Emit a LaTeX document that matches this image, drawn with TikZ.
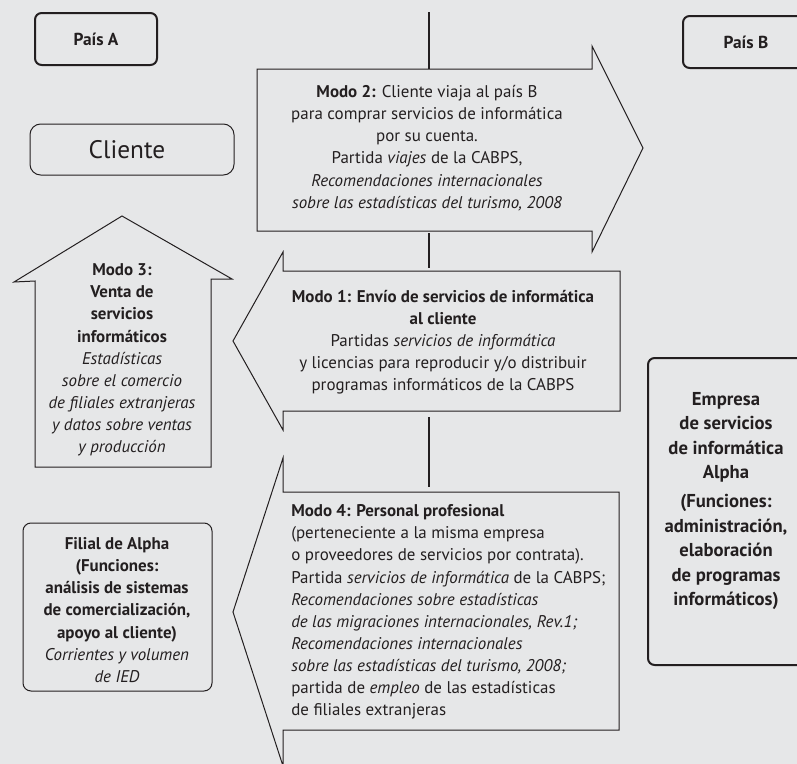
\documentclass[tikz,border=0pt]{standalone}
\usepackage{fontspec}
\setmainfont{PT Sans}
\definecolor{bg}{RGB}{230,231,232}
\definecolor{ink}{RGB}{35,31,32}
\begin{document}
\begin{tikzpicture}[x=0.75pt,y=-0.75pt,
  thickbox/.style={draw=ink,line width=1.5pt,rounded corners=5pt},
  thinbox/.style={draw=ink,line width=0.75pt,rounded corners=6pt},
  arrowshape/.style={draw=ink,line width=0.75pt,line join=miter},
  axis/.style={draw=ink,line width=1.6pt},
  txt/.style={text=ink,inner sep=0pt,align=center,font=\fontsize{12.7}{16.6}\selectfont}]
\fill[bg] (0,0) rectangle (797,764);
\useasboundingbox (0,0) rectangle (797,764);

% country boxes
\draw[thickbox] (35,13) rectangle (157,65);
\node[txt,font=\fontsize{13}{15}\selectfont\bfseries] (paisA) at (96,39) {País A};
\draw[thickbox] (683,16) rectangle (810,68);
\node[txt,font=\fontsize{13}{15}\selectfont\bfseries] (paisB) at (746,42) {País B};

% cliente
\draw[thinbox,rounded corners=8pt] (30,124) rectangle (234,175);
\node[txt,font=\fontsize{19}{21}\selectfont] (cliente) at (127,150) {Cliente};

% vertical axis
\coordinate (v0) at (429,12);
\coordinate (v1) at (429,69);
\coordinate (v2) at (429,233);
\coordinate (v3) at (429,268);
\coordinate (v4) at (429,417);
\coordinate (v5) at (429,487);
\draw[axis] (v0) -- (v1);
\draw[axis] (v2) -- (v3);
\draw[axis] (v4) -- (v5);

% Modo 2 (right arrow)
\draw[arrowshape] (257,69) -- (592,69) -- (592,46) -- (643,148) -- (592,252) -- (592,231) -- (257,231) -- cycle;
\node[txt] (m2) at (427,148) {\textbf{Modo 2:} Cliente viaja al país B\\para comprar servicios de informática\\por su cuenta.\\Partida \textit{viajes} de la CABPS,\\\textit{Recomendaciones internacionales}\\\textit{sobre las estadísticas del turismo, 2008}};

% Modo 3 (up arrow)
\draw[arrowshape] (122,216) -- (232,279) -- (211,279) -- (211,467) -- (35,467) -- (35,281) -- (14,282) -- cycle;
\node[txt] (m3) at (122,360) {\textbf{Modo 3:}\\\textbf{Venta de}\\\textbf{servicios}\\\textbf{informáticos}\\\textit{Estadísticas}\\\textit{sobre el comercio}\\\textit{de filiales extranjeras}\\\textit{y datos sobre ventas}\\\textit{y producción}};

% Modo 1 (left arrow)
\draw[arrowshape] (233,341) -- (283,252) -- (283,271) -- (620,271) -- (620,411) -- (283,411) -- (283,430) -- cycle;
\node[txt] (m1) at (443,342) {\textbf{Modo 1: Envío de servicios de informática}\\\textbf{al cliente}\\Partidas \textit{servicios de informática}\\y licencias para reproducir y/o distribuir\\programas informáticos de la CABPS};

% Modo 4 (left arrow)
\draw[arrowshape] (233,612) -- (283,458) -- (283,492) -- (619,492) -- (619,730) -- (283,730) -- (283,766) -- cycle;
\node[txt,align=left,anchor=west] (m4) at (291,612) {\textbf{Modo 4: Personal profesional}\\(perteneciente a la misma empresa\\o proveedores de servicios por contrata).\\Partida \textit{servicios de informática} de la CABPS;\\\textit{Recomendaciones sobre estadísticas}\\\textit{de las migraciones internacionales, Rev.1;}\\\textit{Recomendaciones internacionales}\\\textit{sobre las estadísticas del turismo, 2008;}\\partida de \textit{empleo} de las estadísticas\\de filiales extranjeras};

% Filial
\draw[thinbox] (23,523) rectangle (212,691);
\node[txt] (filial) at (117,610) {\textbf{Filial de Alpha}\\\textbf{(Funciones:}\\\textbf{análisis de sistemas}\\\textbf{de comercialización,}\\\textbf{apoyo al cliente)}\\\textit{Corrientes y volumen}\\\textit{de IED}};

% Empresa
\draw[thickbox] (648,358) rectangle (808,665);
\node[txt,font=\fontsize{14}{18.4}\selectfont\bfseries] (empresa) at (726,501) {Empresa\\de servicios\\de informática\\Alpha\\[3pt](Funciones:\\administración,\\elaboración\\de programas\\informáticos)};
\end{tikzpicture}
\end{document}
